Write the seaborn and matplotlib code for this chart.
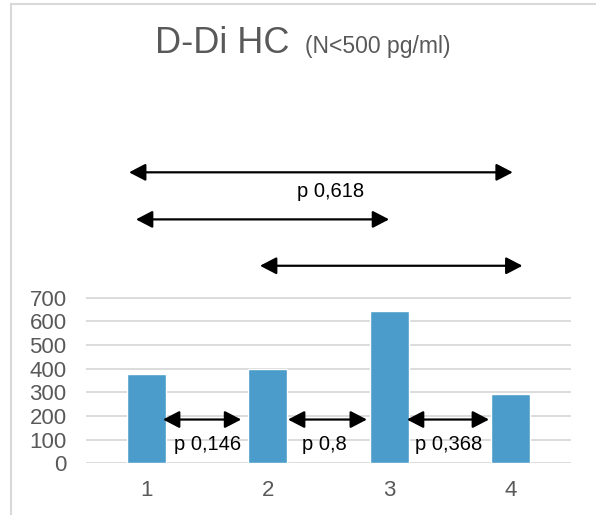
import matplotlib

matplotlib.use("Agg")
import matplotlib.pyplot as plt
import seaborn as sns
from matplotlib.lines import Line2D

# values
groups = ["1", "2", "3", "4"]
values = [376, 397, 644, 294]
y_ticks = [0, 100, 200, 300, 400, 500, 600, 700]

# neighbour comparisons (left group, right group, p value)
pair_p = ["0,146", "0,8", "0,368"]
overall_p = "0,618"

BAR = "#4b9cca"
GRID = "#d9d9d9"
TEXT = "#595959"

sns.set_theme(style="white")
plt.rcParams["font.family"] = ["Liberation Sans", "DejaVu Sans"]

fig = plt.figure(figsize=(5.96, 5.15), dpi=100)
ax = fig.add_axes([0.1443, 0.1004, 0.8137, 0.6431])

sns.barplot(x=groups, y=values, color=BAR, width=0.32, saturation=1, ax=ax, zorder=3)

ax.set_ylim(0, 1400)
ax.set_xlim(-0.5, 3.5)
ax.set_yticks(y_ticks)
ax.tick_params(axis="y", labelsize=16, labelcolor=TEXT, length=0, pad=14)
ax.tick_params(axis="x", labelsize=16, labelcolor=TEXT, length=0, pad=12)
for t in y_ticks:
    ax.axhline(t, color=GRID, lw=1.3, zorder=1)
for side in ax.spines.values():
    side.set_visible(False)
ax.set_xlabel("")
ax.set_ylabel("")


def arrow(x0, x1, y):
    ax.annotate(
        "", xy=(x1, y), xytext=(x0, y), xycoords="data",
        arrowprops=dict(arrowstyle="<|-|>,head_length=0.5,head_width=0.26",
                        mutation_scale=20, color="black", lw=1.6,
                        shrinkA=0, shrinkB=0),
        annotation_clip=False, zorder=4,
    )


# short arrows between neighbouring bars
spans = [(0.135, 0.78), (1.166, 1.817), (2.147, 2.824)]
label_x = [0.50, 1.47, 2.49]
for (x0, x1), lx, p in zip(spans, label_x, pair_p):
    arrow(x0, x1, 185)
    ax.text(lx, 78, "p " + p, ha="center", va="center",
            fontsize=14.5, color="black", zorder=4)

# long arrows above the plot
arrow(-0.145, 3.02, 1230)
arrow(-0.088, 2.0, 1031)
arrow(0.935, 3.10, 835)
ax.text(1.52, 1150, "p " + overall_p, ha="center", va="center", fontsize=14.5, color="black")

fig.text(155 / 596, 1 - 53 / 515, "D-Di HC", fontsize=26, color=TEXT, va="baseline")
fig.text(305 / 596, 1 - 53 / 515, "(N<500 pg/ml)", fontsize=16.5, color=TEXT, va="baseline")

# light frame around the chart
fig.add_artist(Line2D([11 / 596, 11 / 596], [0, 1 - 4 / 515], transform=fig.transFigure, color=GRID, lw=1.5))
fig.add_artist(Line2D([11 / 596, 1], [1 - 4 / 515, 1 - 4 / 515], transform=fig.transFigure, color=GRID, lw=1.5))

fig.savefig("out.png", dpi=100)
